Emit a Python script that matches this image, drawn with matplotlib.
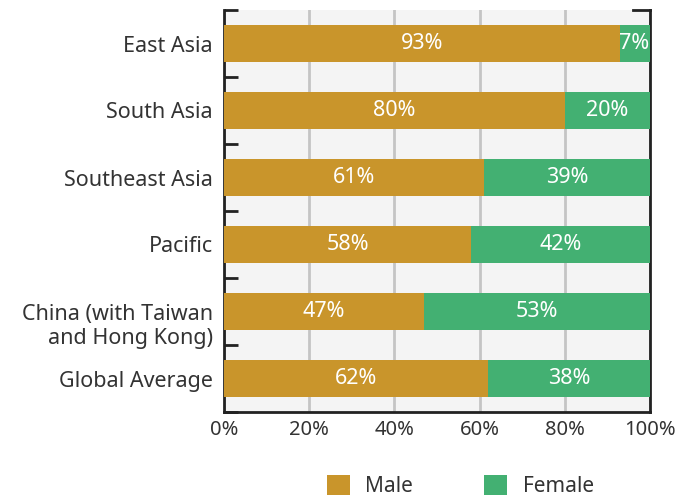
import numpy as np
import matplotlib.pyplot as plt
import matplotlib.transforms as mtransforms

regions = ['East Asia', 'South Asia', 'Southeast Asia', 'Pacific',
           'China (with Taiwan\nand Hong Kong)', 'Global Average']
male = [93, 80, 61, 58, 47, 62]
female = [7, 20, 39, 42, 53, 38]
xticks = [0, 20, 40, 60, 80, 100]

male_col = '#C9952B'
female_col = '#43B072'

plt.rcParams['font.family'] = ['Noto Sans', 'DejaVu Sans']

fig = plt.figure(figsize=(6.91, 4.99), dpi=100)
ax = fig.add_axes([224 / 691, 1 - 412 / 499, 426 / 691, 402 / 499])
ax.set_facecolor('#F4F4F4')

y = np.arange(len(regions))
hb = 0.55
ax.barh(y, male, height=hb, color=male_col, label='Male', zorder=3)
ax.barh(y, female, left=male, height=hb, color=female_col, label='Female', zorder=3)

lab = dict(va='center', color='white', fontsize=15.5, fontweight='medium', zorder=4)
for i in range(len(regions)):
    ax.text(male[i] / 2, y[i], f'{male[i]}%', ha='center', **lab)
    if female[i] < 10:
        ax.text(100 - 0.2, y[i], f'{female[i]}%', ha='right', **lab)
    else:
        ax.text(male[i] + female[i] / 2, y[i], f'{female[i]}%', ha='center', **lab)

ax.set_xlim(0, 100)
ax.set_ylim(len(regions) - 0.5, -0.5)
ax.set_xticks(xticks)
ax.set_xticklabels([f'{v}%' for v in xticks], fontsize=14.5, color='#333333')
ax.set_yticks(y)
ax.set_yticklabels(regions, fontsize=15.5, color='#333333', linespacing=1.2)
ax.tick_params(axis='x', length=0, pad=6)
ax.tick_params(axis='y', length=0, pad=8)

# two-line label sits a little lower than its bar
for t in ax.get_yticklabels():
    if '\n' in t.get_text():
        t.set_transform(t.get_transform() +
                        mtransforms.ScaledTranslation(0, -11 / 100, fig.dpi_scale_trans))

# bracket ticks at category boundaries
ax.set_yticks(np.arange(-0.5, len(regions), 1.0), minor=True)
ax.tick_params(axis='y', which='minor', direction='in', length=10, width=2,
               color='#222222')

ax.grid(axis='x', color='#C4C4C4', linewidth=2, zorder=1)
for s in ['left', 'right', 'bottom', 'top']:
    ax.spines[s].set_color('#222222')
    ax.spines[s].set_linewidth(2)
ax.spines['top'].set_visible(False)
ax.plot([0.96, 1.0], [1, 1], transform=ax.transAxes, color='#222222',
        linewidth=2, clip_on=False, zorder=5)

leg = fig.legend(loc='center', bbox_to_anchor=(0.666, 0.026), ncol=2,
                 frameon=False, fontsize=15, handlelength=1.1, handleheight=1.1,
                 columnspacing=3.4, handletextpad=0.75, borderpad=0)
for t in leg.get_texts():
    t.set_color('#333333')

fig.savefig('out.png', dpi=100)
